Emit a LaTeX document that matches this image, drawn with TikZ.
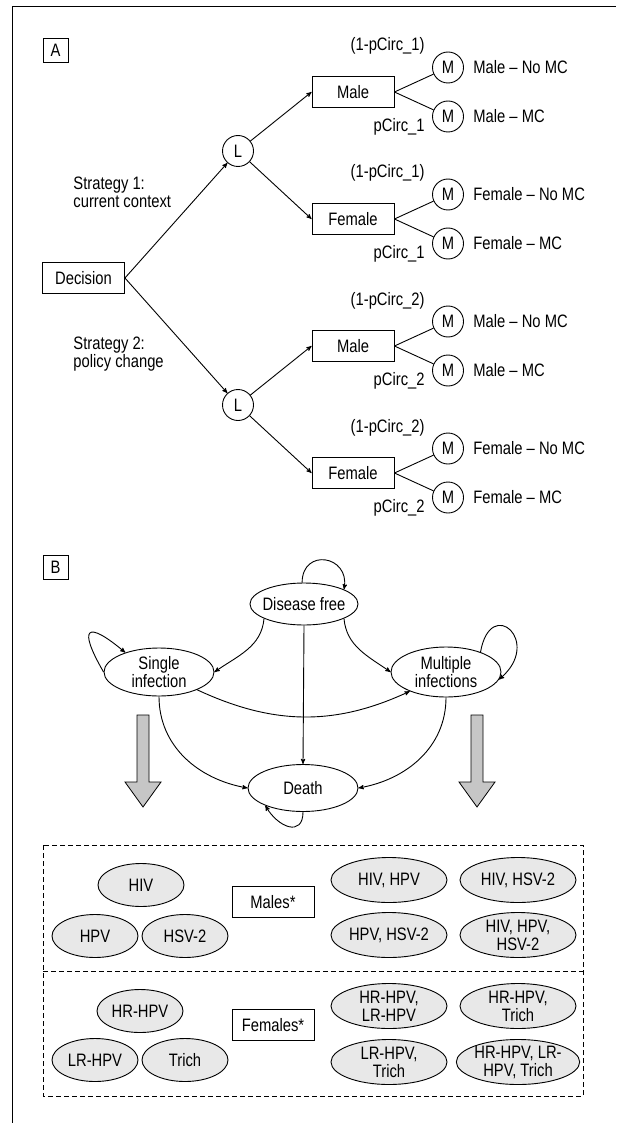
\documentclass[tikz,border=0pt]{standalone}
\usepackage{fontspec}
\setmainfont{Liberation Sans}[FakeStretch=0.82]
\usetikzlibrary{
        arrows,
        positioning,
        shapes.geometric
    }
\tikzset{>=stealth'}
\tikzset{
    every node/.style={font=\fontsize{18}{18}\selectfont},
    tag/.style={draw,rectangle,minimum width=25pt,minimum height=24pt,inner sep=0pt},
    box/.style={draw,rectangle,minimum width=82pt,minimum height=31pt,inner sep=0pt},
    chance/.style={draw,circle,minimum size=31pt,inner sep=0pt},
    lbl/.style={inner sep=0pt},
    hstate/.style={draw,ellipse,inner sep=0pt,minimum width=110pt,minimum height=48pt,align=center},
    combo/.style={draw,ellipse,fill=gray!18,inner sep=0pt,inner ysep=-4pt,
                  minimum width=116pt,minimum height=45pt,align=center},
    single/.style={combo,minimum width=86pt,minimum height=43pt},
    bigarrow/.style={draw,fill=gray!45,line width=0.8pt}
}

\begin{document}
\begin{tikzpicture}[x=1pt,y=1pt,line width=0.9pt]
    \useasboundingbox (0,0) rectangle (616,-1123);
    \draw (12,-1123) -- (12,-6) -- (616,-6);

    % A: decision tree
    \node[tag] (tagA) at (55.5,-50) {A};
    \node[box] (dec) at (83.5,-278) {Decision};
    \node[chance] (l1) at (238,-151) {L};
    \node[chance] (l2) at (238,-405) {L};
    \node[box] (male1) at (353,-92) {Male};
    \node[box] (fem1)  at (353,-219) {Female};
    \node[box] (male2) at (353,-346) {Male};
    \node[box] (fem2)  at (353,-473) {Female};
    \node[chance] (m1a) at (448,-67.5) {M};
    \node[chance] (m1b) at (448,-116.5) {M};
    \node[chance] (m2a) at (448,-194.5) {M};
    \node[chance] (m2b) at (448,-243.5) {M};
    \node[chance] (m3a) at (448,-321.5) {M};
    \node[chance] (m3b) at (448,-370.5) {M};
    \node[chance] (m4a) at (448,-448.5) {M};
    \node[chance] (m4b) at (448,-497.5) {M};
    \node[lbl,right=9pt of m1a] {Male – No MC};
    \node[lbl,right=9pt of m1b] {Male – MC};
    \node[lbl,right=9pt of m2a] {Female – No MC};
    \node[lbl,right=9pt of m2b] {Female – MC};
    \node[lbl,right=9pt of m3a] {Male – No MC};
    \node[lbl,right=9pt of m3b] {Male – MC};
    \node[lbl,right=9pt of m4a] {Female – No MC};
    \node[lbl,right=9pt of m4b] {Female – MC};
    \node[lbl,anchor=east] (q1a) at (425,-46) {(1-pCirc\_1)};
    \node[lbl,anchor=east] (p1a) at (425,-127) {pCirc\_1};
    \node[lbl,anchor=east] (q1b) at (425,-173) {(1-pCirc\_1)};
    \node[lbl,anchor=east] (p1b) at (425,-254) {pCirc\_1};
    \node[lbl,anchor=east] (q2a) at (425,-301) {(1-pCirc\_2)};
    \node[lbl,anchor=east] (p2a) at (425,-381) {pCirc\_2};
    \node[lbl,anchor=east] (q2b) at (425,-428) {(1-pCirc\_2)};
    \node[lbl,anchor=east] (p2b) at (425,-508) {pCirc\_2};
    \node[lbl,anchor=west,align=left] (s1) at (73,-192) {Strategy 1:\\current context};
    \node[lbl,anchor=west,align=left] (s2) at (73,-354) {Strategy 2:\\policy change};
    \path[->]
        (dec.east)  edge (l1)
        (dec.east)  edge (l2)
        (l1)        edge (male1.west)
        (l1)        edge (fem1.west)
        (l2)        edge (male2.west)
        (l2)        edge (fem2.west);
    \path
        (male1.east) edge (m1a)
        (male1.east) edge (m1b)
        (fem1.east)  edge (m2a)
        (fem1.east)  edge (m2b)
        (male2.east) edge (m3a)
        (male2.east) edge (m3b)
        (fem2.east)  edge (m4a)
        (fem2.east)  edge (m4b);

    % B: Markov states
    \node[tag] (tagB) at (55.5,-567) {B};
    \node[hstate,minimum width=108pt,minimum height=42pt,inner xsep=-6pt] (df) at (304,-604) {Disease free};
    \node[hstate] (si) at (159,-672) {Single\\infection};
    \node[hstate,minimum height=50pt] (mi) at (446,-672) {Multiple\\infections};
    \node[hstate,minimum height=47pt] (de) at (303,-788) {Death};
    \path[->]
        (df.200)   edge[out=-95,in=35]  (si.east)
        (df.-20)   edge[out=-85,in=145] (mi.west)
        (df.south) edge (de.north)
        (si.-25)   edge[out=-25,in=-155] (mi.-152)
        (si.south) edge[out=-90,in=170] (de.west)
        (mi.south) edge[out=-90,in=10]  (de.east)
        (df.95)    edge[out=90,in=80,looseness=2.1] (df.20)
        (si.180)   edge[out=120,in=140,looseness=4.5] (si.150)
        (mi.30)    edge[out=80,in=40,looseness=4.5] (mi.-8)
        (de.-90)   edge[out=-90,in=-60,looseness=1.7] (de.-155);
    \draw[bigarrow] (137,-715) -- (149,-715) -- (149,-782) -- (161,-782)
        -- (143,-807) -- (125,-782) -- (137,-782) -- cycle;
    \draw[bigarrow] (471,-715) -- (483,-715) -- (483,-782) -- (495,-782)
        -- (477,-807) -- (459,-782) -- (471,-782) -- cycle;

    % infection combinations
    \draw[dashed,dash pattern=on 5pt off 3pt] (43,-845) rectangle (583,-1096);
    \draw[dashed,dash pattern=on 5pt off 3pt] (43,-971) -- (583,-971);
    \node[single] (hiv) at (141,-885) {HIV};
    \node[single] (hpv) at (95,-936) {HPV};
    \node[single] (hsv) at (185,-936) {HSV-2};
    \node[box] (males) at (273,-902) {Males*};
    \node[combo] (hivhpv) at (389,-880) {HIV, HPV};
    \node[combo] (hivhsv) at (518,-880) {HIV, HSV-2};
    \node[combo] (hpvhsv) at (389,-935) {HPV, HSV-2};
    \node[combo] (hivall) at (518,-935) {HIV, HPV,\\HSV-2};
    \node[single] (hr)  at (140,-1011) {HR-HPV};
    \node[single] (lr)  at (95,-1060) {LR-HPV};
    \node[single] (tri) at (185,-1060) {Trich};
    \node[box] (females) at (273,-1025) {Females*};
    \node[combo] (hrlr)  at (389,-1006) {HR-HPV,\\LR-HPV};
    \node[combo] (hrtri) at (518,-1006) {HR-HPV,\\Trich};
    \node[combo] (lrtri) at (389,-1062) {LR-HPV,\\Trich};
    \node[combo] (fall)  at (518,-1062) {HR-HPV, LR-\\HPV, Trich};
\end{tikzpicture}
\end{document}
